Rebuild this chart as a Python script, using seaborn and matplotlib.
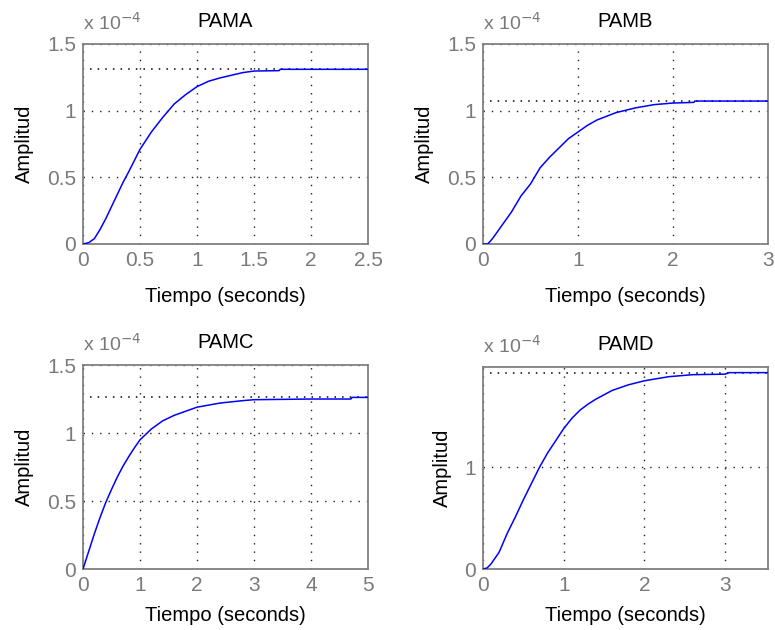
import matplotlib
matplotlib.use("Agg")
import matplotlib.pyplot as plt
import seaborn as sns
import pandas as pd
from matplotlib.ticker import FuncFormatter

sns.set_style("white")
plt.rcParams['font.family'] = ['Liberation Sans', 'DejaVu Sans']

titles = ["PAMA", "PAMB", "PAMC", "PAMD"]

# Amplitude values are in units of 1e-4
t_a = [0, 0.05, 0.1, 0.15, 0.2, 0.25, 0.3, 0.35, 0.4, 0.5, 0.6, 0.7, 0.8, 0.9, 1.0, 1.1, 1.2, 1.3, 1.4, 1.5, 1.72, 1.73, 2.0, 2.5]
y_a = [0, 0.01, 0.04, 0.11, 0.19, 0.28, 0.37, 0.46, 0.54, 0.71, 0.84, 0.95, 1.05, 1.12, 1.18, 1.22, 1.245, 1.265, 1.285, 1.297, 1.30, 1.31, 1.31, 1.31]

t_b = [0, 0.05, 0.1, 0.2, 0.3, 0.4, 0.5, 0.6, 0.7, 0.8, 0.9, 1.0, 1.1, 1.2, 1.4, 1.6, 1.8, 2.0, 2.22, 2.23, 3.0]
y_b = [0, 0, 0.04, 0.14, 0.24, 0.36, 0.45, 0.57, 0.65, 0.72, 0.79, 0.84, 0.89, 0.93, 0.985, 1.02, 1.045, 1.057, 1.062, 1.072, 1.072]

t_c = [0, 0.1, 0.2, 0.3, 0.4, 0.5, 0.6, 0.7, 0.8, 0.9, 1.0, 1.2, 1.4, 1.6, 1.8, 2.0, 2.4, 2.8, 3.0, 4.0, 4.7, 4.72, 5.0]
y_c = [0, 0.13, 0.26, 0.38, 0.49, 0.585, 0.675, 0.755, 0.825, 0.89, 0.95, 1.03, 1.09, 1.13, 1.16, 1.19, 1.22, 1.238, 1.245, 1.25, 1.25, 1.262, 1.262]

t_d = [0, 0.05, 0.1, 0.2, 0.3, 0.4, 0.5, 0.6, 0.7, 0.8, 0.9, 1.0, 1.1, 1.2, 1.3, 1.4, 1.6, 1.8, 2.0, 2.3, 2.6, 3.0, 3.05, 3.53]
y_d = [0, 0.01, 0.05, 0.165, 0.35, 0.51, 0.68, 0.84, 1.0, 1.14, 1.26, 1.38, 1.48, 1.56, 1.62, 1.67, 1.755, 1.81, 1.85, 1.89, 1.91, 1.915, 1.93, 1.93]

steady = [1.31, 1.072, 1.262, 1.93]
xlims = [2.5, 3.0, 5.0, 3.53]
ylims = [1.5, 1.5, 1.5, 1.985]
xticks = [[0, 0.5, 1, 1.5, 2, 2.5], [0, 1, 2, 3], [0, 1, 2, 3, 4, 5], [0, 1, 2, 3]]
yticks = [[0, 0.5, 1, 1.5], [0, 0.5, 1, 1.5], [0, 0.5, 1, 1.5], [0, 1]]
series = [(t_a, y_a), (t_b, y_b), (t_c, y_c), (t_d, y_d)]

positions = [
    [0.1071, 0.6127, 0.3677, 0.3175],
    [0.6232, 0.6127, 0.3677, 0.3175],
    [0.1071, 0.0968, 0.3677, 0.3238],
    [0.6232, 0.0968, 0.3677, 0.3206],
]
xlabelpads = [12, 12, 8, 8]

fig = plt.figure(figsize=(7.75, 6.3), dpi=100)
gray = "#808080"
fs_tick = 15
fs_lab = 14.5

for i in range(4):
    ax = fig.add_axes(positions[i])
    t, y = series[i]
    df = pd.DataFrame({"t": t, "y": y})
    ax.grid(True, color="#202020", linestyle=(0, (1, 5)), linewidth=1.0)
    ax.axhline(steady[i], xmin=0.025, color="black", linestyle=(0, (1, 4)), linewidth=1.1, zorder=2)
    sns.lineplot(data=df, x="t", y="y", ax=ax, color="#0000ff", linewidth=1.1,
                 estimator=None, sort=False, zorder=3)
    ax.set_xlim(0, xlims[i])
    ax.set_ylim(0, ylims[i])
    ax.set_xticks(xticks[i])
    ax.set_yticks(yticks[i])
    fmt = FuncFormatter(lambda v, p: f"{v:g}")
    ax.xaxis.set_major_formatter(fmt)
    ax.yaxis.set_major_formatter(fmt)
    for s in ax.spines.values():
        s.set_color(gray)
        s.set_linewidth(1.3)
        s.set_visible(True)
    ax.tick_params(direction="in", length=3, width=0.8, colors=gray, labelcolor="#7a7a7a",
                   labelsize=fs_tick, pad=5)
    ax.set_xlabel("Tiempo (seconds)", fontsize=fs_lab, color="black", labelpad=xlabelpads[i])
    ax.set_ylabel("Amplitud", fontsize=fs_lab, color="black", labelpad=9)
    ax.set_title(titles[i], fontsize=fs_lab, color="black", pad=12)
    ax.text(0.0, 1.05, r"x 10$^{-4}$", transform=ax.transAxes, color="#7a7a7a",
            fontsize=14, ha="left", va="bottom")

fig.savefig("out.png", dpi=100)
